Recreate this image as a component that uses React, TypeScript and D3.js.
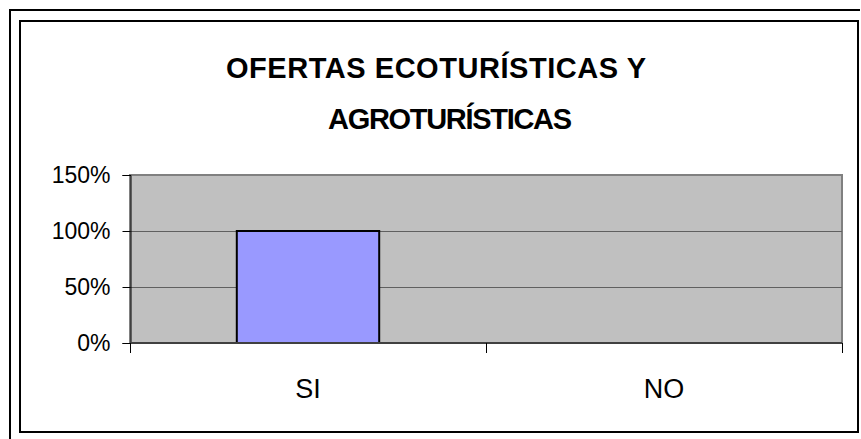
import React, { useEffect, useRef } from 'react';
import * as d3 from 'd3';

// chart data
const titleLines = ['OFERTAS ECOTURÍSTICAS Y', 'AGROTURÍSTICAS'];
const categories = ['SI', 'NO'];
const values = [1.0, 0];
const yTicks = [0, 0.5, 1, 1.5];

const App = () => {
  const ref = useRef<SVGSVGElement>(null);

  useEffect(() => {
    const width = 861,
      height = 439;
    const plot = { left: 130, right: 842, top: 175, bottom: 343 };

    const svg = d3.select(ref.current);
    svg.selectAll('*').remove();
    svg.attr('width', width).attr('height', height)
      .style('font-family', '"Liberation Sans", Arial, sans-serif');

    svg.append('rect').attr('width', width).attr('height', height).attr('fill', '#fff');

    // page frame lines + chart border
    svg.append('path')
      .attr('d', 'M10,439 L10,10 L860,10')
      .attr('fill', 'none').attr('stroke', '#000').attr('stroke-width', 2);
    svg.append('rect')
      .attr('x', 20).attr('y', 21).attr('width', 838).attr('height', 411)
      .attr('fill', '#fff').attr('stroke', '#000').attr('stroke-width', 2);

    // title (excel spaces the letters a bit differently, so fit each line to its width)
    const titleX = [436, 450];
    const titleW = [420, 244];
    svg.selectAll('.title')
      .data(titleLines)
      .enter().append('text')
      .attr('class', 'title')
      .attr('x', (d, i) => titleX[i])
      .attr('y', (d, i) => 78 + i * 51)
      .attr('text-anchor', 'middle')
      .attr('font-weight', 'bold')
      .attr('font-size', 29)
      .attr('textLength', (d, i) => titleW[i])
      .attr('lengthAdjust', 'spacing')
      .text(d => d);

    const x = d3.scaleBand()
      .domain(categories)
      .range([plot.left, plot.right])
      .paddingInner(0.6)
      .paddingOuter(0.3);

    const y = d3.scaleLinear()
      .domain([0, 1.5])
      .range([plot.bottom, plot.top]);

    // plot area
    svg.append('rect')
      .attr('x', plot.left).attr('y', plot.top)
      .attr('width', plot.right - plot.left).attr('height', plot.bottom - plot.top)
      .attr('fill', '#c0c0c0').attr('stroke', '#808080').attr('stroke-width', 2);

    // gridlines
    svg.selectAll('.grid')
      .data(yTicks.filter(t => t > 0 && t < 1.5))
      .enter().append('line')
      .attr('x1', plot.left).attr('x2', plot.right)
      .attr('y1', d => Math.round(y(d)) + 0.5).attr('y2', d => Math.round(y(d)) + 0.5)
      .attr('stroke', '#606060').attr('stroke-width', 1);

    // bars
    svg.selectAll('.bar')
      .data(values)
      .enter().append('rect')
      .attr('x', (d, i) => x(categories[i]))
      .attr('y', d => y(d))
      .attr('width', x.bandwidth())
      .attr('height', d => y(0) - y(d))
      .attr('fill', '#9999ff')
      .attr('stroke', d => (d > 0 ? '#000' : 'none'))
      .attr('stroke-width', 2);

    // y axis
    const yAxis = d3.axisLeft(y)
      .tickValues(yTicks)
      .tickSize(8)
      .tickPadding(12)
      .tickFormat(d => d3.format('.0%')(d as number));
    const yg = svg.append('g')
      .attr('transform', `translate(${plot.left + 0.5},0)`)
      .call(yAxis);
    yg.select('.domain').attr('stroke', '#000');
    yg.selectAll('line').attr('stroke', '#000');
    yg.selectAll('text').attr('font-size', 23).attr('fill', '#000')
      .attr('font-family', '"Liberation Sans", Arial, sans-serif');

    // x axis baseline
    svg.append('line')
      .attr('x1', plot.left).attr('x2', plot.right)
      .attr('y1', plot.bottom).attr('y2', plot.bottom)
      .attr('stroke', '#404040').attr('stroke-width', 2);

    // category ticks at band boundaries
    const bounds = [plot.left, ...categories.map(c => x(c)! + x.bandwidth() + x.step() * 0.3)];
    svg.selectAll('.xtick')
      .data(bounds)
      .enter().append('line')
      .attr('x1', d => Math.round(d) + 0.5).attr('x2', d => Math.round(d) + 0.5)
      .attr('y1', plot.bottom).attr('y2', plot.bottom + 10)
      .attr('stroke', '#000');

    svg.selectAll('.xlabel')
      .data(categories)
      .enter().append('text')
      .attr('x', d => x(d)! + x.bandwidth() / 2)
      .attr('y', 398)
      .attr('text-anchor', 'middle')
      .attr('font-size', 27)
      .text(d => d);
  }, []);

  return (
    <div style={{ position: 'absolute', left: 0, top: 0 }}>
      <svg ref={ref}></svg>
    </div>
  );
};

export default App;
